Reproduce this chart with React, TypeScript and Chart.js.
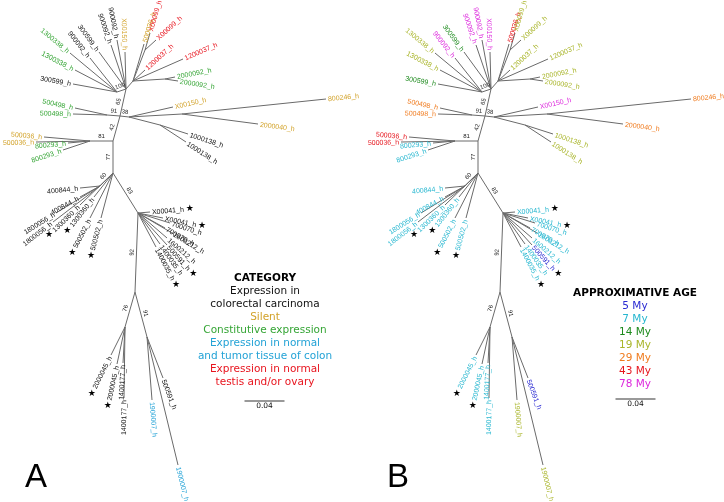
import { useEffect, useRef } from "react";
import { Chart, registerables } from "chart.js";

Chart.register(...registerables);

// ---------- DATA ----------
// Tree nodes (unrooted layout, substitutions/site, relative to the basal node; y up)
const nodeLabel: string[] = [
  "", "", "", "", "", "", "", "", "", "", "", "", "", "", "", "", "", "",
  "1300338_h", "1300338_h", "300599_h", "900092_h", "300599_h", "900092_h", "900092_h", "X00150_h",
  "500036_h", "X00099_h", "X00099_h", "1200037_h", "1200037_h", "2000092_h", "2000092_h",
  "500498_h", "500498_h", "X00150_h", "800246_h", "2000040_h", "1000138_h", "1000138_h",
  "500036_h", "500036_h", "800293_h", "800293_h", "400844_h", "400844_h", "1800056_h", "1800056_h",
  "1300360_h", "1300360_h", "500502_h", "500502_h", "X00041_h", "X00041_h", "700070_h", "700070_h",
  "1600212_h", "1600212_h", "500591_h", "1400035_h", "1400035_h", "2000045_h", "2000045_h",
  "1400177_h", "1400177_h", "1900007_h", "1900007_h", "500591_h",
];
const nodeParent: number[] = [
  -1, 0, 1, 1, 3, 3, 3, 6, 6, 5, 5, 0, 11, 12, 12, 0, 8, 8,
  7, 7, 7, 7, 6, 6, 6, 6,
  8, 17, 17, 8, 8, 16, 16,
  4, 4, 5, 9, 9, 10, 10,
  2, 2, 2, 2, 15, 15, 15, 15,
  0, 0, 0, 0, 11, 11, 11, 11,
  11, 11, 11, 11, 11, 13, 13,
  13, 13, 14, 14, 14,
];
const nodeX: number[] = [
  0, 0, -0.023, 0.007, -0.006, 0.016, 0.013, 0.004, 0.020, 0.069, 0.047, 0.025, 0.022, 0.012, 0.034, -0.013, 0.052, 0.032,
  -0.043, -0.038, -0.040, -0.023, -0.014, -0.002, 0.004, 0.012,
  0.031, 0.037, 0.043, 0.032, 0.070, 0.062, 0.065,
  -0.038, -0.040, 0.060, 0.213, 0.145, 0.075, 0.073,
  -0.069, -0.077, -0.045, -0.050, -0.033, -0.033, -0.057, -0.060,
  -0.033, -0.019, -0.023, -0.012, 0.037, 0.050, 0.057, 0.052,
  0.059, 0.054, 0.054, 0.047, 0.043, -0.002, 0.004,
  0.010, 0.011, 0.039, 0.065, 0.050,
];
const nodeY: number[] = [
  0, 0.032, 0.032, 0.057, 0.058, 0.056, 0.084, 0.081, 0.092, 0.059, 0.048, -0.040, -0.119, -0.154, -0.164, -0.013, 0.094, 0.123,
  0.120, 0.103, 0.089, 0.115, 0.121, 0.128, 0.133, 0.121,
  0.129, 0.140, 0.133, 0.103, 0.114, 0.096, 0.092,
  0.065, 0.059, 0.066, 0.074, 0.049, 0.039, 0.031,
  0.036, 0.031, 0.030, 0.023, -0.015, -0.024, -0.040, -0.049,
  -0.032, -0.024, -0.045, -0.045, -0.039, -0.045, -0.050, -0.055,
  -0.060, -0.065, -0.072, -0.071, -0.074, -0.182, -0.191,
  -0.190, -0.225, -0.227, -0.292, -0.205,
];
// bootstrap support of the branch leading to each node
const nodeSupport: (number | null)[] = [
  null, 77, 81, 42, 91, 38, 65, 100, null, null, null, 83, 92, 76, 91, 60, null, null,
];
// 0 colorectal carcinoma, 1 silent, 2 constitutive, 3 normal+tumor colon, 4 testis/ovary
const leafCategory: number[] = [
  -1, -1, -1, -1, -1, -1, -1, -1, -1, -1, -1, -1, -1, -1, -1, -1, -1, -1,
  2, 2, 0, 0, 0, 0, 0, 1,
  1, 4, 4, 4, 4, 2, 2,
  2, 2, 1, 1, 1, 0, 0,
  1, 1, 2, 2, 0, 0, 0, 0,
  0, 0, 0, 0, 0, 0, 0, 0,
  0, 0, 0, 0, 0, 0, 0,
  0, 0, 3, 3, 0,
];
// 0 5My, 1 7My, 2 14My, 3 19My, 4 29My, 5 43My, 6 78My
const leafAge: number[] = [
  -1, -1, -1, -1, -1, -1, -1, -1, -1, -1, -1, -1, -1, -1, -1, -1, -1, -1,
  3, 3, 2, 6, 2, 6, 6, 6,
  5, 3, 3, 3, 3, 3, 3,
  4, 4, 6, 4, 4, 3, 3,
  5, 5, 1, 1, 1, 1, 1, 1,
  1, 1, 1, 1, 1, 1, 1, 1,
  1, 1, 0, 1, 1, 1, 1,
  1, 1, 3, 3, 0,
];
const starredNodes: number[] = [48, 49, 50, 51, 52, 53, 58, 60, 61, 62];

const categoryTitle = "CATEGORY";
const categoryNames: string[][] = [
  ["Expression in", "colorectal carcinoma"],
  ["Silent"],
  ["Constitutive expression"],
  ["Expression in normal", "and tumor tissue of colon"],
  ["Expression in normal", "testis and/or ovary"],
];
const ageTitle = "APPROXIMATIVE AGE";
const ageNames: string[] = ["5 My", "7 My", "14 My", "19 My", "29 My", "43 My", "78 My"];
const scaleBarValue = 0.04;
const panelNames = ["A", "B"];

// ---------- STYLE / LAYOUT ----------
const categoryColors = ["#111111", "#d2a229", "#35a535", "#22a2d6", "#e8141e"];
const ageColors = ["#2a2ad2", "#27b7d0", "#1d8a1d", "#a9b52a", "#f07b1e", "#e6141c", "#dc26dc"];
const branchColor = "#6a6a6a";
const panels = [
  { ox: 0.113, oy: 0.329, colors: (i: number) => categoryColors[leafCategory[i]] },
  { ox: 0.478, oy: 0.329, colors: (i: number) => ageColors[leafAge[i]] },
];

function buildDatasets() {
  const ds: any[] = [];
  for (const p of panels) {
    for (let i = 0; i < nodeParent.length; i++) {
      const par = nodeParent[i];
      if (par < 0) continue;
      ds.push({
        data: [
          { x: p.ox + nodeX[par], y: p.oy + nodeY[par] },
          { x: p.ox + nodeX[i], y: p.oy + nodeY[i] },
        ],
        showLine: true,
        borderColor: branchColor,
        borderWidth: 1,
        pointRadius: 0,
        fill: false,
      });
    }
  }
  return ds;
}

const treePlugin = {
  id: "treeLabels",
  afterDatasetsDraw(chart: any) {
    const ctx: CanvasRenderingContext2D = chart.ctx;
    const xs = chart.scales.x;
    const ys = chart.scales.y;
    panels.forEach((p) => {
      const px = (i: number) => xs.getPixelForValue(p.ox + nodeX[i]);
      const py = (i: number) => ys.getPixelForValue(p.oy + nodeY[i]);
      for (let i = 0; i < nodeParent.length; i++) {
        const par = nodeParent[i];
        if (par < 0) continue;
        const x0 = px(par), y0 = py(par), x1 = px(i), y1 = py(i);
        const a = Math.atan2(y1 - y0, x1 - x0);
        const label = nodeLabel[i];
        if (label) {
          ctx.save();
          ctx.font = "7px 'Liberation Sans', Arial, sans-serif";
          ctx.fillStyle = p.colors(i);
          ctx.textBaseline = "middle";
          const gap = 2;
          const w = ctx.measureText(label).width;
          ctx.translate(x1, y1);
          if (Math.cos(a) < 0) {
            ctx.rotate(a + Math.PI);
            ctx.textAlign = "right";
            ctx.fillText(label, -gap, 0.5);
          } else {
            ctx.rotate(a);
            ctx.textAlign = "left";
            ctx.fillText(label, gap, 0.5);
          }
          ctx.restore();
          if (starredNodes.includes(i)) {
            const d = gap + w + 6;
            ctx.save();
            ctx.font = "9px 'DejaVu Sans', sans-serif";
            ctx.fillStyle = "#000";
            ctx.textAlign = "center";
            ctx.textBaseline = "middle";
            ctx.fillText("★", x1 + Math.cos(a) * d, y1 + Math.sin(a) * d);
            ctx.restore();
          }
        }
        const s = nodeSupport[i];
        if (s != null) {
          let r = a;
          if (r >= Math.PI / 2 - 1e-6) r -= Math.PI;
          else if (r < -Math.PI / 2) r += Math.PI;
          ctx.save();
          ctx.font = "6px 'Liberation Sans', Arial, sans-serif";
          ctx.fillStyle = "#222";
          ctx.textAlign = "center";
          ctx.textBaseline = "bottom";
          ctx.translate((x0 + x1) / 2, (y0 + y1) / 2);
          ctx.rotate(r);
          ctx.fillText(String(s), 0, -1.5);
          ctx.restore();
        }
      }
    });
  },
  afterDraw(chart: any) {
    const ctx: CanvasRenderingContext2D = chart.ctx;
    const xs = chart.scales.x;
    const drawScaleBar = (cx: number, y: number, ty: number) => {
      const len = xs.getPixelForValue(scaleBarValue) - xs.getPixelForValue(0);
      ctx.save();
      ctx.strokeStyle = "#777";
      ctx.lineWidth = 1.3;
      ctx.beginPath();
      ctx.moveTo(cx - len / 2, y);
      ctx.lineTo(cx + len / 2, y);
      ctx.stroke();
      ctx.font = "7.5px 'DejaVu Sans', sans-serif";
      ctx.fillStyle = "#111";
      ctx.textAlign = "center";
      ctx.textBaseline = "middle";
      ctx.fillText(String(scaleBarValue), cx, ty);
      ctx.restore();
    };
    ctx.save();
    ctx.textAlign = "center";
    ctx.textBaseline = "middle";
    // Category legend
    let y = 278.5;
    ctx.font = "bold 10.5px 'DejaVu Sans', sans-serif";
    ctx.fillStyle = "#000";
    ctx.fillText(categoryTitle, 265, y);
    y = 291.5;
    ctx.font = "10.5px 'DejaVu Sans', sans-serif";
    categoryNames.forEach((lines, k) => {
      ctx.fillStyle = categoryColors[k];
      lines.forEach((ln) => {
        ctx.fillText(ln, 265, y);
        y += 13;
      });
    });
    // Age legend
    y = 293;
    ctx.font = "bold 10.5px 'DejaVu Sans', sans-serif";
    ctx.fillStyle = "#000";
    ctx.fillText(ageTitle, 635, y);
    y = 306;
    ctx.font = "10.5px 'DejaVu Sans', sans-serif";
    ageNames.forEach((nm, k) => {
      ctx.fillStyle = ageColors[k];
      ctx.fillText(nm, 635, y);
      y += 13;
    });
    // Panel letters
    ctx.font = "33px 'Liberation Sans', Arial, sans-serif";
    ctx.fillStyle = "#000";
    ctx.textBaseline = "alphabetic";
    ctx.fillText(panelNames[0], 36, 487);
    ctx.fillText(panelNames[1], 398, 487);
    ctx.restore();
    drawScaleBar(264.5, 401, 406);
    drawScaleBar(635.5, 399, 404);
  },
};

export default function App() {
  const ref = useRef<HTMLCanvasElement>(null);
  useEffect(() => {
    document.body.style.margin = "0";
    const chart = new Chart(ref.current as HTMLCanvasElement, {
      type: "scatter",
      data: { datasets: buildDatasets() },
      options: {
        responsive: false,
        animation: false,
        maintainAspectRatio: false,
        layout: { padding: 0 },
        plugins: { legend: { display: false }, tooltip: { enabled: false } },
        elements: { point: { radius: 0 } },
        scales: {
          x: { type: "linear", min: 0, max: 0.724, display: false },
          y: { type: "linear", min: 0, max: 0.502, display: false },
        },
      },
      plugins: [treePlugin],
    } as any);
    return () => chart.destroy();
  }, []);
  return (
    <canvas ref={ref} width={724} height={502} style={{ display: "block", background: "#fff" }} />
  );
}
